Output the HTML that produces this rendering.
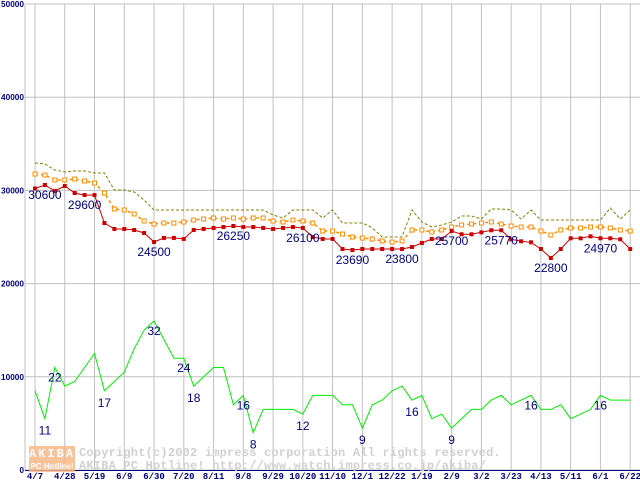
<!DOCTYPE html>
<html><head><meta charset="utf-8"><style>
html,body{margin:0;padding:0;background:#fff;}
svg{display:block;font-family:"Liberation Sans",sans-serif;}
</style></head><body>
<svg id="chart" width="640" height="480" viewBox="0 0 640 480" xmlns="http://www.w3.org/2000/svg">
<g id="grid"></g>
<g id="watermark">
  <rect x="29" y="446" width="46" height="26" fill="#f8b888" opacity="0.85"/>
  <text x="52" y="457" text-anchor="middle" font-family="Liberation Mono,monospace" font-weight="bold" font-size="12" fill="#fff" letter-spacing="2">AKIBA</text>
  <text x="52" y="469" text-anchor="middle" font-family="Liberation Sans,sans-serif" font-weight="bold" font-size="8" fill="#fff">PC Hotline!</text>
  <text x="79" y="456" font-family="Liberation Mono,monospace" font-weight="bold" font-size="12" fill="#d0d0d0" letter-spacing="0.2">Copyright(c)2002 impress corporation All rights reserved.</text>
  <text x="79" y="469" font-family="Liberation Mono,monospace" font-weight="bold" font-size="12" fill="#d0d0d0" letter-spacing="0.2">AKIBA PC Hotline!  http://www.watch.impress.co.jp/akiba/</text>
</g>
<g id="series"></g>
<g id="labels"></g>
</svg>
<script>
const xTickLabels = ["4/7","4/28","5/19","6/9","6/30","7/20","8/11","9/8","9/29","10/20","11/10","12/1","12/22","1/19","2/9","3/2","3/23","4/13","5/11","6/1","6/22"];
const yTickValues = [0,10000,20000,30000,40000,50000];
const maxPrice = [32940,32830,32190,31970,32080,32080,31870,31870,30040,30040,29830,28970,27900,27900,27900,27900,27900,27900,27900,27900,27900,27900,27900,27900,27360,27040,27900,27900,27900,27040,27900,26500,26500,26500,25970,25000,25000,25000,27900,26610,26070,26290,26610,27250,27250,26930,28000,28000,27900,26930,27900,26820,26820,26820,26820,26820,26820,26820,28110,26930,27900];
const avgPrice = [31760,31650,31120,31120,31220,31010,30790,29720,28000,27900,27470,26720,26390,26500,26500,26610,26820,26930,27040,26930,27040,26930,27040,27040,26720,26610,26820,26720,26500,25640,25640,25320,25000,24890,24790,24570,24460,24570,25750,25750,25540,25750,26070,26290,26390,26500,26610,26390,26180,26070,26070,25640,25210,25750,25970,25970,26070,26070,25970,25750,25640];
const minPrice = [30200,30580,29940,30470,29720,29500,29500,26500,25860,25860,25750,25430,24460,24900,24900,24790,25750,25860,25970,26070,26180,26070,26070,25970,25860,25970,26070,25970,25000,24790,24790,23710,23600,23710,23710,23710,23710,23710,23930,24360,24790,24790,25640,25290,25290,25500,25720,25720,24750,24540,24430,23710,22750,23710,24860,24860,25070,24860,24860,24750,23710];
const shopCount = [17,11,22,18,19,22,25,17,19,21,26,30,32,28,24,24,18,20,22,22,14,16,8,13,13,13,13,12,16,16,16,14,14,9,14,15,17,18,15,16,11,12,9,11,13,13,15,16,14,15,16,13,13,14,11,12,13,16,15,15,15];
const priceLabelIdx = [1,5,12,20,27,32,37,42,47,52,57];
const priceLabelText = ["30600","29600","24500","26250","26100","23690","23800","25700","25770","22800","24970"];
const countLabelIdx = [1,2,7,12,15,16,21,22,27,33,38,42,50,57];
const countLabelText = ["11","22","17","32","24","18","16","8","12","9","16","9","16","16"];

const NS="http://www.w3.org/2000/svg";
const X0=35, DX=9.92, Y0=470, PY=0.00932, COUNT_SCALE=500;
function xAt(i){return X0+i*DX;}
function yAt(v){return Y0-v*PY;}
function yCount(c){return yAt(c*COUNT_SCALE);}
function mk(tag,attrs,parent){const e=document.createElementNS(NS,tag);for(const k in attrs)e.setAttribute(k,attrs[k]);parent.appendChild(e);return e;}
const grid=document.getElementById('grid'),series=document.getElementById('series'),labels=document.getElementById('labels');

yTickValues.forEach(v=>{
  const l=mk('line',{x1:25,x2:640,y1:yAt(v),y2:yAt(v),stroke:'#c0c0c0','stroke-width':1},grid);
  
  
  const s=String(v);
  const attrs={x:24,y:yAt(v)+3,'text-anchor':'end','font-size':8,'font-weight':'bold',fill:'#000080','font-family':'Liberation Sans,sans-serif'};
  if(s.length>1){attrs.textLength=s.length*4.6;attrs.lengthAdjust='spacingAndGlyphs';}
  const t=mk('text',attrs,grid);
  t.textContent=s;
  
  
});
xTickLabels.forEach((s,k)=>{
  const x=xAt(k*3);
  const l=mk('line',{x1:x,x2:x,y1:4,y2:470,stroke:'#c0c0c0','stroke-width':1},grid);
  
  
  const t=mk('text',{x:x,y:479,'text-anchor':'middle','font-size':9,'font-weight':'bold',fill:'#000080','font-family':'Liberation Mono,monospace'},grid);
  t.textContent=s;
  
  
});
const ax=mk('line',{x1:25,x2:25,y1:4,y2:470,stroke:'#c0c0c0','stroke-width':1},grid);


const bx=mk('line',{x1:25,x2:640,y1:470.5,y2:470.5,stroke:'#000080','stroke-width':1},grid);



function pts(arr,fy){return arr.map((v,i)=>xAt(i).toFixed(1)+','+fy(v).toFixed(1)).join(' ');}
const mx=mk('polyline',{points:pts(maxPrice,yAt),fill:'none',stroke:'#808000','stroke-width':1,'stroke-dasharray':'3,2'},series);


const av=mk('polyline',{points:pts(avgPrice,yAt),fill:'none',stroke:'#ff8c00','stroke-width':1.5,'stroke-dasharray':'3,3'},series);


avgPrice.forEach((v,i)=>{
  const r=mk('rect',{x:xAt(i)-2,y:yAt(v)-2,width:4,height:4,fill:'#fff',stroke:'#ff8c00','stroke-width':1},series);
  
  
});
const mn=mk('polyline',{points:pts(minPrice,yAt),fill:'none',stroke:'#cc0000','stroke-width':1},series);


minPrice.forEach((v,i)=>{
  const r=mk('rect',{x:xAt(i)-2,y:yAt(v)-2,width:4,height:4,fill:'#cc0000'},series);
  
  
});
const gc=mk('polyline',{points:pts(shopCount,yCount),fill:'none',stroke:'#00ee00','stroke-width':1},series);



priceLabelIdx.forEach((i,k)=>{
  const t=mk('text',{x:xAt(i),y:yAt(minPrice[i])+14,'text-anchor':'middle','font-size':12,fill:'#000080'},labels);
  t.textContent=priceLabelText[k];
  
  
});
countLabelIdx.forEach((i,k)=>{
  const c=shopCount[i];
  const prev=shopCount[i-1]!==undefined?shopCount[i-1]:c, next=shopCount[i+1]!==undefined?shopCount[i+1]:c;
  const low=c<=prev&&c<=next;
  const t=mk('text',{x:xAt(i),y:yCount(c)+(low?16:14),'text-anchor':'middle','font-size':12,fill:'#000080'},labels);
  t.textContent=countLabelText[k];
  
  
});
</script>
</body></html>
